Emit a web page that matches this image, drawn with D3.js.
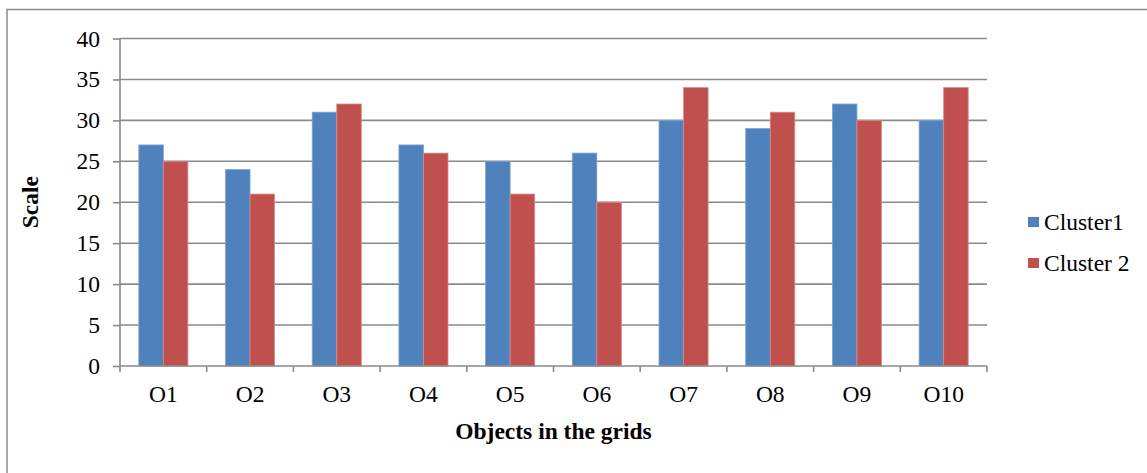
<!DOCTYPE html>
<html><head><meta charset="utf-8">
<script src="https://d3js.org/d3.v7.min.js"></script>
<style>body{margin:0;background:#fff}svg{display:block}text{font-family:"Liberation Serif","Times New Roman",serif;fill:#000}</style>
</head><body><svg id="c" width="1147" height="473"></svg>
<script>
const categories = ["O1","O2","O3","O4","O5","O6","O7","O8","O9","O10"];
const cluster1 = [27,24,31,27,25,26,30,29,32,30];
const cluster2 = [25,21,32,26,21,20,34,31,30,34];
const seriesNames = ["Cluster1","Cluster 2"];
const yTicks = [0,5,10,15,20,25,30,35,40];

const colors = ["#4F81BD","#C0504D"];
const strokes = ["#7FA3D3","#D98A88"];
const FS = 23.5;
const svg = d3.select("#c");
const L = 120, R = 987, T = 38.5, B = 366;

svg.append("rect").attr("x",7).attr("y",9.5).attr("width",1160).attr("height",500)
  .attr("fill","none").attr("stroke","#8c8c8c").attr("stroke-width",1.5);

const x = d3.scaleBand().domain(categories).range([L,R]).padding(0);
const y = d3.scaleLinear().domain([0,40]).range([B,T]);
const gridC = "#8a8a8a";

// gridlines
svg.append("g").selectAll("line").data(yTicks.filter(d=>d>0)).join("line")
  .attr("x1",L).attr("x2",R).attr("y1",d=>y(d)).attr("y2",d=>y(d))
  .attr("stroke",gridC).attr("stroke-width",1.6);

// bars
const bw = x.bandwidth()*0.283;
const series = [cluster1, cluster2];
series.forEach((vals,si)=>{
  svg.append("g").selectAll("rect").data(vals).join("rect")
    .attr("x",(d,i)=>x(categories[i]) + x.bandwidth()/2 - bw + si*bw)
    .attr("y",d=>y(d)).attr("width",bw).attr("height",d=>B-y(d))
    .attr("fill",colors[si]).attr("stroke",strokes[si]).attr("stroke-width",0.8);
});

// y axis
const ya = svg.append("g").attr("transform",`translate(${L},0)`)
  .call(d3.axisLeft(y).tickValues(yTicks).tickSize(7).tickPadding(13));
ya.select(".domain").attr("stroke",gridC).attr("stroke-width",1.6).attr("d",`M0,${B}V${T}`);
ya.selectAll(".tick line").attr("stroke",gridC).attr("stroke-width",1.6);
ya.selectAll(".tick text").attr("font-size",FS).attr("font-family","Liberation Serif").attr("fill","#000");

// x axis
const xa = svg.append("g").attr("transform",`translate(0,${B})`)
  .call(d3.axisBottom(x).tickSize(0).tickPadding(19));
xa.select(".domain").attr("stroke",gridC).attr("stroke-width",1.6).attr("d",`M${L},0H${R}`);
xa.selectAll(".tick text").attr("font-size",FS).attr("font-family","Liberation Serif").attr("fill","#000");
// category boundary ticks
const bounds = categories.map(c=>x(c)).concat([R]);
svg.append("g").selectAll("line").data(bounds).join("line")
  .attr("x1",d=>d).attr("x2",d=>d).attr("y1",B).attr("y2",B+6)
  .attr("stroke",gridC).attr("stroke-width",1.6);

// titles
svg.append("text").attr("x",(L+R)/2).attr("y",439).attr("text-anchor","middle")
  .attr("font-size",FS).attr("font-weight","bold").text("Objects in the grids");
svg.append("text").attr("transform",`translate(38,${(T+B)/2}) rotate(-90)`).attr("text-anchor","middle")
  .attr("font-size",FS).attr("font-weight","bold").text("Scale");

// legend
const lg = svg.append("g");
seriesNames.forEach((n,i)=>{
  const yy = 217 + i*41;
  lg.append("rect").attr("x",1028).attr("y",yy).attr("width",11).attr("height",10).attr("fill",colors[i]);
  lg.append("text").attr("x",1044).attr("y",yy+13).attr("font-size",FS).text(n);
});
</script></body></html>
